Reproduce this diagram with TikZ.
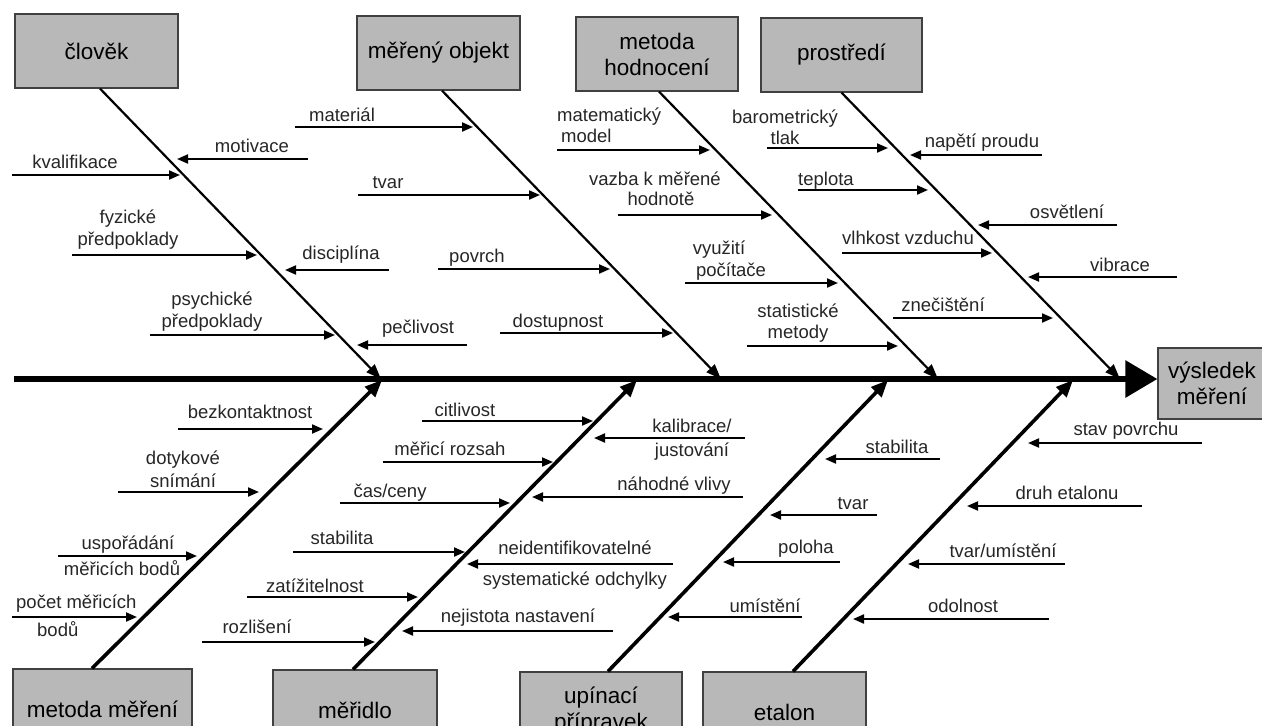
\documentclass[tikz,border=0pt]{standalone}
\usepackage{fontspec}
\setmainfont{Liberation Sans}
\usetikzlibrary{arrows.meta,calc}
\begin{document}
\begin{tikzpicture}[x=1pt,y=-1pt,
  box/.style={draw=black!75,line width=1.2pt,fill=black!28,font=\fontsize{22.5}{26}\selectfont,align=center,inner sep=0pt},
  lbl/.style={font=\fontsize{18.5}{22}\selectfont,align=center,inner sep=0pt,text=black!85,anchor=base},
  arr/.style={line width=2pt,-{Triangle[length=11pt,width=9pt]}},
  bone/.style={line width=2.2pt,-{Triangle[length=15pt,width=11pt]}},
  bbone/.style={line width=3.6pt,-{Triangle[length=17pt,width=14pt]}},
  spine/.style={line width=6pt,-{Triangle[length=32pt,width=36pt]}}]
\useasboundingbox (0,0) rectangle (1262,726);
\clip (0,0) rectangle (1262,726);
\fill[white] (0,0) rectangle (1262,726);

% category boxes
\node[box,minimum width=163,minimum height=74] (clovek) at (96.5,51) {člověk};
\node[box,minimum width=163,minimum height=74] (objekt) at (438.5,53) {měřený objekt};
\node[box,minimum width=162,minimum height=74] (hodnoceni) at (657,54) {metoda\\hodnocení};
\node[box,minimum width=161,minimum height=74] (prostredi) at (841.5,55) {prostředí};
\node[box,minimum width=179,minimum height=80] (metoda) at (102.5,709) {metoda měření};
\node[box,minimum width=164,minimum height=80] (meridlo) at (355,710) {měřidlo};
\node[box,minimum width=162,minimum height=78] (upinaci) at (601,711) {upínací\\přípravek};
\node[box,minimum width=163,minimum height=80] (etalon) at (784.5,712) {etalon};
\node[box,minimum width=108,minimum height=71] (result) at (1212,383.5) {výsledek\\měření};

% spine
\coordinate (spinestart) at (14,379);
\coordinate (t1) at (381,379);
\coordinate (t2) at (721,379);
\coordinate (t3) at (938,379);
\coordinate (t4) at (1120,379);
\coordinate (b1) at (382,380);
\coordinate (b2) at (637,380);
\coordinate (b3) at (888,380);
\coordinate (b4) at (1073,380);

\draw[bone] ([xshift=3.5pt]clovek.south) -- (t1);
\draw[bone] ([xshift=3.5pt]objekt.south) -- (t2);
\draw[bone] ([xshift=2pt]hodnoceni.south) -- (t3);
\draw[bone] (prostredi.south) -- (t4);
\draw[bbone] ([xshift=-10.5pt]metoda.north) -- (b1);
\draw[bbone] ([xshift=-2pt]meridlo.north) -- (b2);
\draw[bbone] ([xshift=7pt]upinaci.north) -- (b3);
\draw[bbone] ([xshift=8.5pt]etalon.north) -- (b4);
\draw[spine] (spinestart) -- (result.west |- spinestart);

% small cause arrows
\foreach \n/\xa/\xb/\yy in {
motivace/308/177/159, kvalifikace/12/180/175, fyzicke/72/257/255,
disciplina/389/285/270, psychicke/150/335/335, peclivost/467/357/345,
material/295/473/127, tvar/358/540/195, povrch/438/610/269,
dostupnost/500/673/333, matematicky/557/710/150, vazba/618/772/215,
vyuziti/685/838/283, statisticke/747/898/346, barometricky/767/888/148,
napeti/1042/910/155, teplota/798/928/190, osvetleni/1117/978/225,
vlhkost/842/992/253, vibrace/1177/1028/277, znecisteni/893/1053/318,
bezkontakt/178/323/429, dotykove/118/259/492, usporadani/58/197/556,
pocet/12/137/617, citlivost/422/593/421, rozsah/383/553/462,
cas/340/510/503, stabilitaA/293/465/552, zatizitelnost/247/418/597,
rozliseni/202/375/642, kalibrace/745/594/438, nahodne/743/532/497,
neident/673/467/564, nejistota/613/402/631, stabilitaB/940/825/459,
tvarB/877/770/515, poloha/840/723/562, umisteni/802/668/617,
stav/1202/1028/443, druh/1142/967/506, tvarum/1065/908/564,
odolnost/1049/853/619}
{
  \coordinate (\n-a) at (\xa,\yy);
  \coordinate (\n-b) at (\xb,\yy);
  \draw[arr] (\n-a) -- (\n-b);
}

% labels (multi-line: anchor base = last line baseline)
\node[lbl] (l-motivace) at (252,152.5) {motivace};
\node[lbl] (l-kvalifikace) at (75,168.5) {kvalifikace};
\node[lbl] (l-fyzicke) at (128,245.5) {fyzické\\předpoklady};
\node[lbl] (l-disciplina) at (341,259.5) {disciplína};
\node[lbl] (l-psychicke) at (212,327.5) {psychické\\předpoklady};
\node[lbl] (l-peclivost) at (418,333.5) {pečlivost};
\node[lbl] (l-material) at (342,121.5) {materiál};
\node[lbl] (l-tvar) at (388,188.5) {tvar};
\node[lbl] (l-povrch) at (477,262.5) {povrch};
\node[lbl] (l-dostupnost) at (558,327.5) {dostupnost};
\node[lbl,anchor=base west,align=left] (l-matematicky) at (557,142.5) {matematický\\[-1pt]\hspace*{4pt}model};
\node[lbl] (l-vazba) at (655,205.5) {vazba k měřené\\[-2pt]\hspace*{12pt}hodnotě};
\node[lbl] (l-vyuziti) at (725,276.5) {využití\hspace*{12pt}\\\hspace*{12pt}počítače};
\node[lbl] (l-statisticke) at (798,338.5) {statistické\\[-1pt]metody};
\node[lbl] (l-barometricky) at (785,144.5) {barometrický\\[-1pt]tlak};
\node[lbl] (l-napeti) at (982,147.5) {napětí proudu};
\node[lbl] (l-teplota) at (826,185.5) {teplota};
\node[lbl] (l-osvetleni) at (1067,218.5) {osvětlení};
\node[lbl] (l-vlhkost) at (908,244.5) {vlhkost vzduchu};
\node[lbl] (l-vibrace) at (1120,271.5) {vibrace};
\node[lbl] (l-znecisteni) at (943,311.5) {znečištění};

\node[lbl] (l-bezkontakt) at (250,418.5) {bezkontaktnost};
\node[lbl] (l-dotykove) at (183,487.5) {dotykové\\[1pt]snímání};
\node[lbl] (l-usporadani) at (122,575.5) {\hspace*{12pt}uspořádání\\[4pt]měřicích bodů};
\node[lbl,anchor=base west,align=left] (l-pocet) at (16,636.5) {počet měřicích\\[6pt]\hspace*{21pt}bodů};
\node[lbl] (l-citlivost) at (465,416.5) {citlivost};
\node[lbl] (l-rozsah) at (450,455.5) {měřicí rozsah};
\node[lbl] (l-cas) at (390,497.5) {čas/ceny};
\node[lbl] (l-stabilitaA) at (342,544.5) {stabilita};
\node[lbl] (l-zatizitelnost) at (315,592.5) {zatížitelnost};
\node[lbl] (l-rozliseni) at (257,633.5) {rozlišení};
\node[lbl] (l-kalibrace) at (692,456.5) {kalibrace/\\[2pt]justování};
\node[lbl] (l-nahodne) at (674,490.5) {náhodné vlivy};
\node[lbl] (l-neident) at (575,585.5) {neidentifikovatelné\\[9pt]systematické odchylky};
\node[lbl] (l-nejistota) at (518,622.5) {nejistota nastavení};
\node[lbl] (l-stabilitaB) at (897,453.5) {stabilita};
\node[lbl] (l-tvarB) at (853,509.5) {tvar};
\node[lbl] (l-poloha) at (806,553.5) {poloha};
\node[lbl] (l-umisteni) at (765,612.5) {umístění};
\node[lbl] (l-stav) at (1126,435.5) {stav povrchu};
\node[lbl] (l-druh) at (1067,499.5) {druh etalonu};
\node[lbl] (l-tvarum) at (1003,557.5) {tvar/umístění};
\node[lbl] (l-odolnost) at (963,612.5) {odolnost};
\end{tikzpicture}
\end{document}
